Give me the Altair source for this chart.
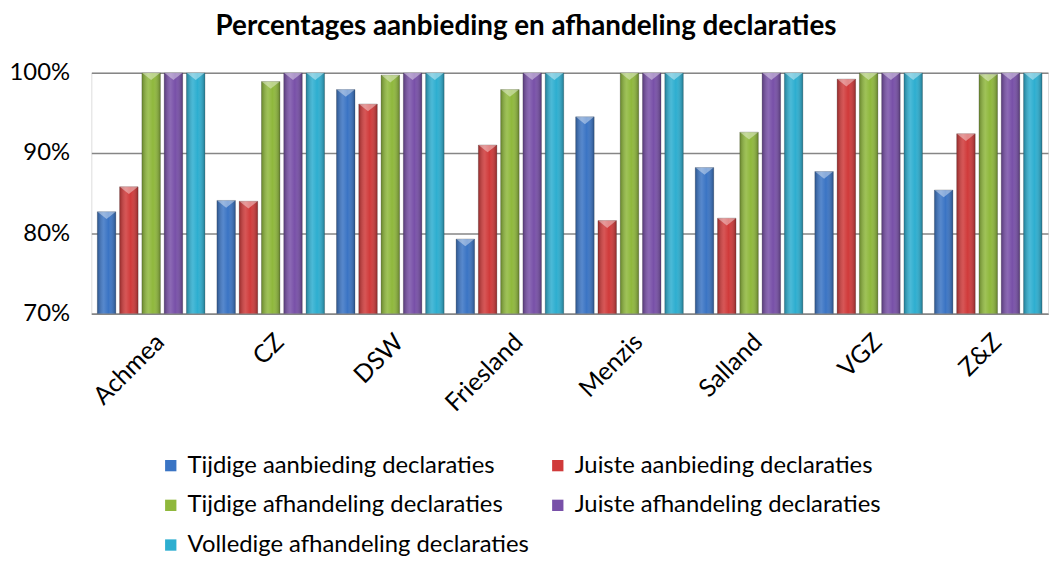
import altair as alt
import pandas as pd

groups = ["Achmea", "CZ", "DSW", "Friesland", "Menzis", "Salland", "VGZ", "Z&Z"]
series = [
    "Tijdige aanbieding declaraties",
    "Juiste aanbieding declaraties",
    "Tijdige afhandeling declaraties",
    "Juiste afhandeling declaraties",
    "Volledige afhandeling declaraties",
]
tijdige_aanbieding = [82.7, 84.1, 97.9, 79.3, 94.5, 88.2, 87.7, 85.4]
juiste_aanbieding = [85.8, 84.0, 96.1, 91.0, 81.6, 81.9, 99.2, 92.4]
tijdige_afhandeling = [100.0, 98.9, 99.7, 97.9, 100.0, 92.6, 100.0, 99.8]
juiste_afhandeling = [100.0, 100.0, 100.0, 100.0, 100.0, 100.0, 100.0, 100.0]
volledige_afhandeling = [100.0, 100.0, 100.0, 100.0, 100.0, 100.0, 100.0, 100.0]
colors = ["#3A74C4", "#D03A3A", "#8FB83C", "#7850A8", "#2DAED0"]

rows = []
for s, vals in zip(series, [tijdige_aanbieding, juiste_aanbieding, tijdige_afhandeling,
                            juiste_afhandeling, volledige_afhandeling]):
    for g, v in zip(groups, vals):
        rows.append({"groep": g, "reeks": s, "waarde": v / 100.0})
df = pd.DataFrame(rows)

FONT = "Lato"

x_enc = alt.X("groep:N", sort=groups, title=None,
              scale=alt.Scale(paddingInner=0.1, paddingOuter=0.05),
              axis=alt.Axis(labelAngle=-45, labelFontSize=25, labelFont=FONT,
                            labelColor="#000000", ticks=False, domainColor="#868686",
                            domainWidth=1.5, labelPadding=24, labelOffset=9,
                            labelAlign="right", labelBaseline="middle"))
y_enc = alt.Y("waarde:Q", title=None,
              scale=alt.Scale(domain=[0.7, 1.0], nice=False, zero=False),
              axis=alt.Axis(values=[0.7, 0.8, 0.9, 1.0], format=".0%", labelFontSize=24,
                            labelFont=FONT, labelColor="#000000", ticks=False, domain=False,
                            gridColor="#868686", gridWidth=1.5, labelPadding=22))
xoff = alt.XOffset("reeks:N", sort=series, scale=alt.Scale(paddingInner=0.17))

bars = alt.Chart(df).mark_bar(clip=True, stroke="#444444", strokeOpacity=0.35, strokeWidth=0.8).encode(
    x=x_enc,
    y=y_enc,
    y2=alt.datum(0.7),
    xOffset=xoff,
    color=alt.Color("reeks:N", sort=series, title=None,
                    scale=alt.Scale(domain=series, range=colors),
                    legend=alt.Legend(orient="none", legendX=68, legendY=384, columns=2,
                                      direction="horizontal",
                                      columnPadding=16, rowPadding=16, padding=0,
                                      labelFontSize=24, labelFont=FONT, labelColor="#000000",
                                      symbolType="square", symbolSize=130, symbolStrokeWidth=0,
                                      labelOffset=5, labelLimit=600)),
)

shade = alt.Chart(df).mark_bar(
    clip=True,
    fill=alt.Gradient(
        gradient="linear", x1=0, x2=1, y1=0, y2=0,
        stops=[
            alt.GradientStop(color="rgba(0,0,0,0.28)", offset=0),
            alt.GradientStop(color="rgba(255,255,255,0.14)", offset=0.35),
            alt.GradientStop(color="rgba(255,255,255,0.0)", offset=0.6),
            alt.GradientStop(color="rgba(0,0,0,0.30)", offset=1),
        ],
    ),
).encode(x=alt.X("groep:N", sort=groups), y=alt.Y("waarde:Q"), y2=alt.datum(0.7),
         xOffset=alt.XOffset("reeks:N", sort=series))

bevel = alt.Chart(df).mark_point(
    shape="M -1 0 L 1 0 L 0 0.8 Z", filled=True, fill="#ffffff", fillOpacity=0.4,
    strokeWidth=0, size=340, clip=True,
).encode(x=alt.X("groep:N", sort=groups), y=alt.Y("waarde:Q"),
         xOffset=alt.XOffset("reeks:N", sort=series))

chart = alt.layer(bars, shade, bevel).properties(
    width=964,
    height=243,
    title=alt.TitleParams(
        "Percentages aanbieding en afhandeling declaraties",
        font=FONT, fontSize=28, fontWeight="bold", color="#000000",
        anchor="middle", dx=-44, offset=20,
    ),
    autosize=alt.AutoSizeParams(type="none"),
    padding={"left": 84, "top": 63, "right": 3, "bottom": 254},
).configure_view(stroke=None).configure(background="#ffffff")

chart.save("out.html", embed_options={"renderer": "svg", "actions": False})
